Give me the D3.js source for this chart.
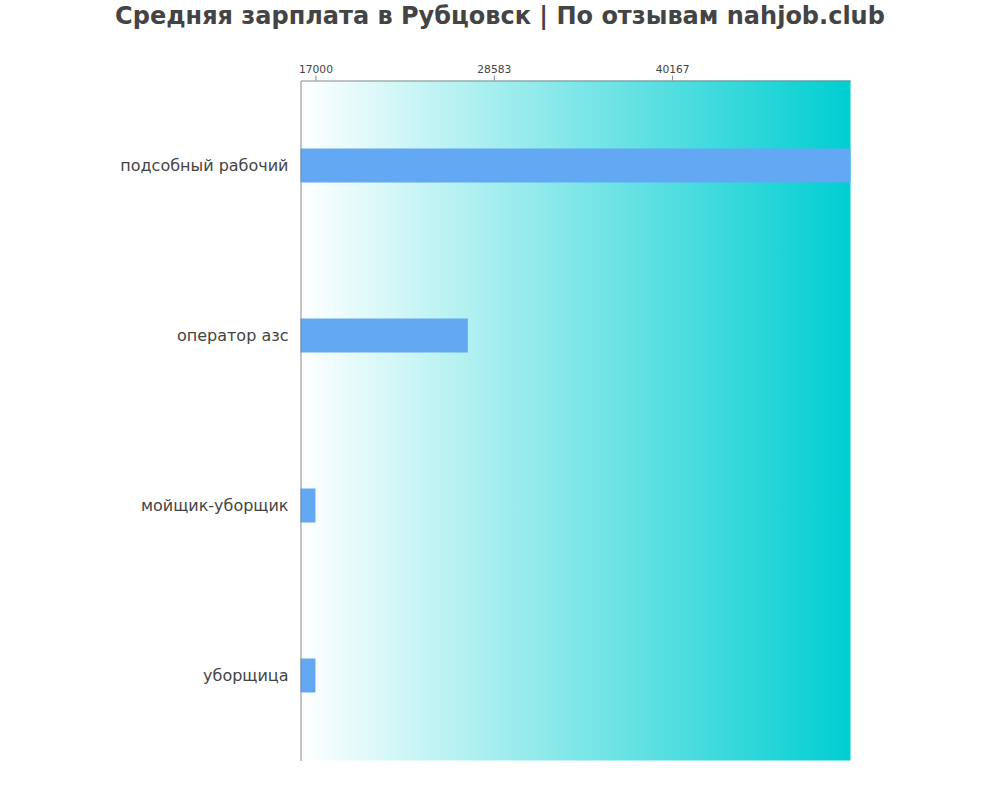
<!DOCTYPE html>
<html><head><meta charset="utf-8">
<script src="https://cdn.jsdelivr.net/npm/d3@7"></script>
<style>body{margin:0;background:#fff}svg{font-family:"DejaVu Sans",sans-serif}</style>
</head><body>
<svg id="c" width="1000" height="800"></svg>
<script>
const titleText = "Средняя зарплата в Рубцовск | По отзывам nahjob.club";
const categories = ["подсобный рабочий", "оператор азс", "мойщик-уборщик", "уборщица"];
const values = [51750, 26900, 17000, 17000];
const tickValues = [17000, 28583, 40167];
const domainMin = 16030, domainMax = 51750;

(function(){
const svg = d3.select("#c");
const pL = 300.5, pR = 850.5, pT = 80.5, pB = 760.5;

const defs = svg.append("defs");
const g = defs.append("linearGradient").attr("id","bg").attr("x1","0").attr("x2","1").attr("y1","0").attr("y2","0");
g.append("stop").attr("offset","0").attr("stop-color","#ffffff");
g.append("stop").attr("offset","1").attr("stop-color","#00ced1");

const x = d3.scaleLinear().domain([domainMin, domainMax]).range([pL, pR]);
const y = d3.scaleBand().domain(categories).range([pT, pB]).paddingInner(0.8).paddingOuter(0.4);

svg.append("rect").attr("x", pL).attr("y", pT).attr("width", pR-pL).attr("height", pB-pT).attr("fill","url(#bg)");

svg.selectAll("rect.bar").data(categories).enter().append("rect").attr("class","bar")
  .attr("x", pL).attr("y", d=>y(d))
  .attr("width", (d,i)=>x(values[i])-pL).attr("height", y.bandwidth())
  .attr("fill","#62a8f3");

const xa = svg.append("g").attr("transform",`translate(0,${pT})`)
  .call(d3.axisTop(x).tickValues(tickValues).tickFormat(d=>String(d)).tickSize(5).tickSizeOuter(0));
xa.attr("font-family","DejaVu Sans");
xa.select(".domain").attr("stroke","#888");
xa.selectAll(".tick line").attr("stroke","#888");
xa.selectAll(".tick text").attr("fill","#444").attr("font-size","10.7px");

const ya = svg.append("g").attr("transform",`translate(${pL},0)`)
  .call(d3.axisLeft(y).tickSize(0).tickPadding(12).tickSizeOuter(0));
ya.attr("font-family","DejaVu Sans");
ya.select(".domain").attr("stroke","#888");
ya.selectAll(".tick text").attr("fill","#444").attr("font-size","16px");

svg.append("text").attr("x",500).attr("y",24).attr("text-anchor","middle")
  .attr("font-size","24px").attr("font-weight","bold").attr("fill","#444").text(titleText);
})();
</script>
</body></html>
